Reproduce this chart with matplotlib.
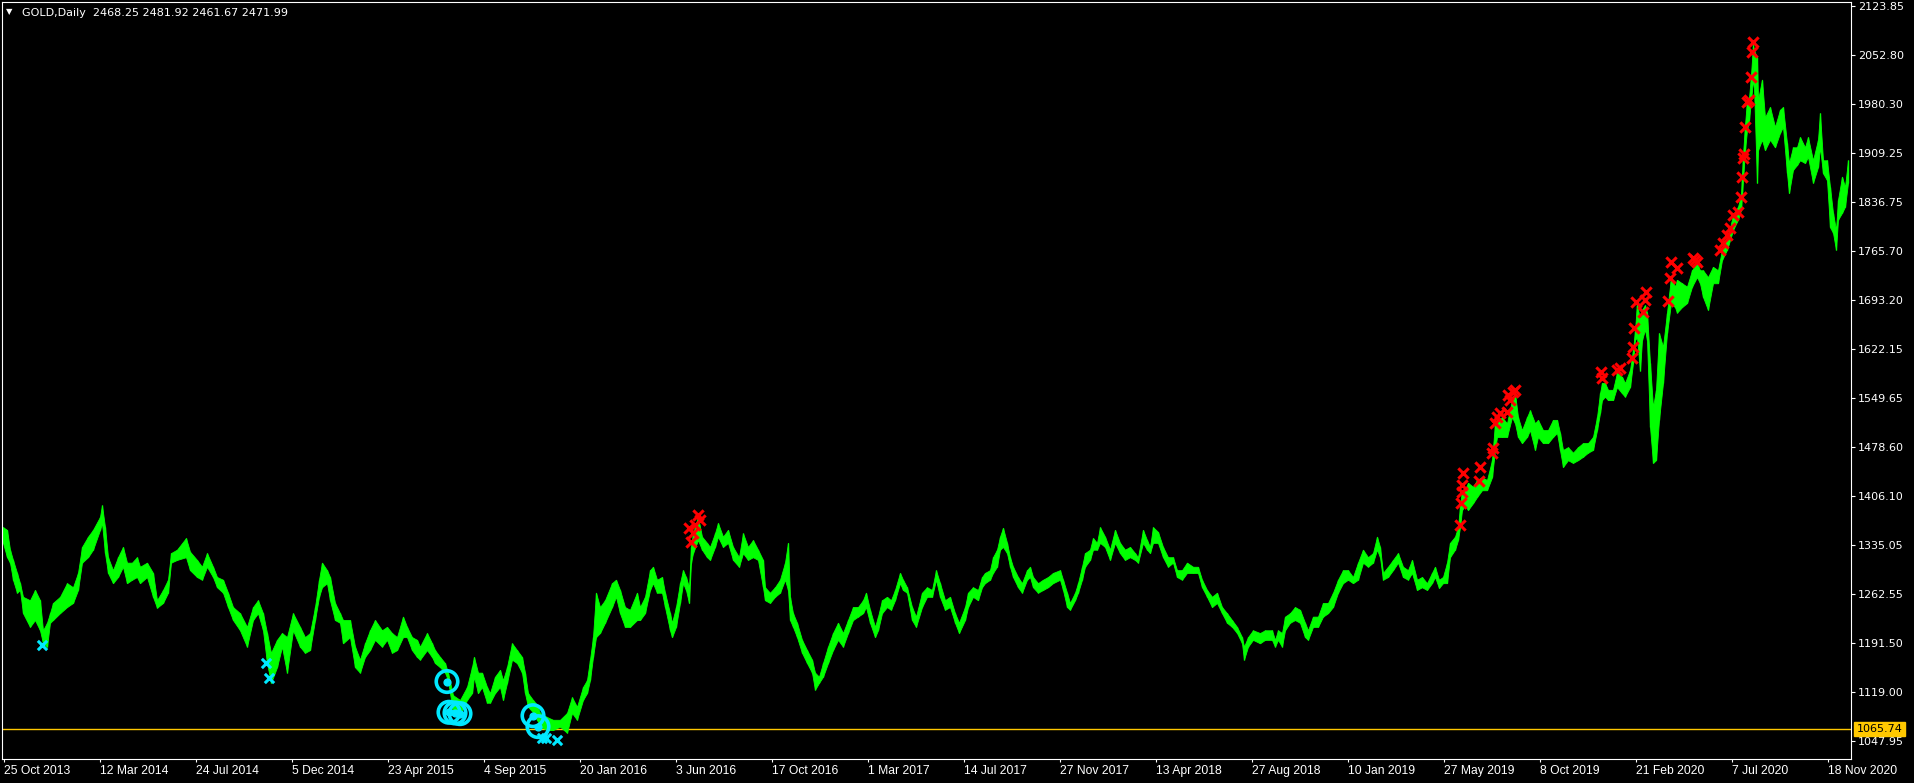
import matplotlib
matplotlib.use("Agg")
from matplotlib import pyplot as plt
from matplotlib import transforms

# daily GOLD, sampled from the chart: bar number, high, low
bars = [3, 7, 10, 13, 17, 20, 23, 30, 35, 40, 43, 47, 50, 53, 60, 67, 73, 78, 82, 88,
        93, 100, 102, 105, 108, 113, 118, 123, 127, 132, 137, 140, 147, 153, 157, 163, 168, 171, 177, 186,
        190, 197, 202, 207, 213, 217, 223, 228, 233, 240, 247, 253, 258, 263, 267, 271, 277, 282, 287, 293,
        300, 305, 310, 315, 319, 322, 327, 330, 335, 340, 343, 350, 355, 360, 365, 370, 375, 382, 387, 392,
        397, 403, 407, 412, 417, 420, 427, 432, 435, 440, 445, 448, 453, 460, 467, 472, 474, 478, 482, 487,
        490, 495, 500, 503, 507, 512, 517, 522, 525, 528, 533, 537, 540, 547, 553, 560, 567, 572, 577, 583,
        587, 590, 593, 596, 600, 605, 612, 616, 620, 625, 630, 637, 640, 645, 650, 653, 657, 662, 665, 670,
        672, 676, 680, 683, 686, 689, 691, 693, 698, 702, 707, 710, 715, 718, 723, 728, 733, 739, 743, 748,
        753, 758, 763, 765, 770, 775, 780, 785, 788, 790, 793, 797, 802, 807, 812, 815, 819, 823, 828, 833,
        838, 843, 848, 853, 858, 863, 866, 870, 875, 878, 882, 887, 891, 895, 900, 903, 907, 912, 916, 922,
        927, 932, 936, 940, 945, 950, 955, 959, 965, 968, 973, 978, 982, 985, 990, 993, 997, 1000, 1003, 1007,
        1010, 1013, 1018, 1022, 1027, 1030, 1033, 1038, 1043, 1048, 1053, 1060, 1063, 1067, 1070, 1075, 1078, 1082, 1085, 1090,
        1093, 1097, 1100, 1105, 1110, 1115, 1120, 1125, 1130, 1135, 1138, 1143, 1147, 1150, 1153, 1158, 1163, 1168, 1173, 1177,
        1182, 1187, 1193, 1198, 1202, 1207, 1212, 1217, 1222, 1227, 1232, 1237, 1242, 1244, 1248, 1253, 1260, 1265, 1272, 1275,
        1278, 1282, 1285, 1290, 1295, 1300, 1305, 1308, 1313, 1318, 1323, 1328, 1333, 1338, 1343, 1348, 1353, 1358, 1363, 1368,
        1373, 1377, 1380, 1383, 1388, 1393, 1398, 1403, 1408, 1412, 1417, 1422, 1427, 1432, 1435, 1439, 1443, 1447, 1450, 1455,
        1458, 1460, 1462, 1465, 1468, 1473, 1477, 1482, 1487, 1492, 1495, 1497, 1502, 1507, 1512, 1515, 1518, 1522, 1527, 1530,
        1535, 1538, 1543, 1548, 1553, 1557, 1560, 1563, 1568, 1573, 1578, 1583, 1588, 1593, 1597, 1600, 1602, 1605, 1608, 1613,
        1617, 1622, 1625, 1630, 1633, 1635, 1637, 1640, 1642, 1645, 1647, 1650, 1653, 1656, 1659, 1663, 1667, 1671, 1675, 1677,
        1682, 1687, 1692, 1697, 1700, 1703, 1708, 1713, 1718, 1722, 1727, 1730, 1733, 1738, 1741, 1742, 1743, 1745, 1747, 1749,
        1751, 1753, 1754, 1757, 1758, 1762, 1765, 1770, 1775, 1780, 1783, 1787, 1789, 1793, 1797, 1800, 1805, 1808, 1813, 1818,
        1820, 1823, 1827, 1830, 1833, 1836, 1838, 1842, 1845, 1848]
highs = [1361, 1357, 1328, 1313, 1294, 1279, 1259, 1254, 1269, 1254, 1210, 1221, 1235, 1250, 1259, 1279, 1273, 1294, 1332, 1347,
         1357, 1376, 1393, 1361, 1317, 1298, 1317, 1332, 1309, 1309, 1317, 1303, 1309, 1294, 1254, 1269, 1284, 1323, 1328, 1345,
         1325, 1313, 1303, 1323, 1303, 1288, 1284, 1265, 1244, 1235, 1215, 1244, 1254, 1235, 1206, 1177, 1196, 1206, 1200, 1235,
         1215, 1200, 1206, 1244, 1284, 1309, 1298, 1288, 1250, 1235, 1225, 1225, 1186, 1167, 1191, 1210, 1225, 1210, 1215, 1206,
         1200, 1230, 1215, 1200, 1196, 1186, 1206, 1191, 1181, 1171, 1162, 1148, 1115, 1108, 1127, 1156, 1171, 1148, 1148, 1127,
         1118, 1142, 1152, 1137, 1156, 1191, 1181, 1171, 1148, 1118, 1108, 1101, 1089, 1083, 1079, 1079, 1089, 1112, 1098, 1127,
         1137, 1167, 1200, 1265, 1244, 1254, 1279, 1284, 1269, 1244, 1240, 1265, 1244, 1259, 1298, 1303, 1284, 1288, 1265, 1235,
         1221, 1244, 1279, 1298, 1288, 1273, 1332, 1352, 1376, 1347, 1338, 1332, 1352, 1367, 1347, 1357, 1332, 1317, 1352, 1332,
         1342, 1328, 1313, 1273, 1265, 1273, 1284, 1309, 1338, 1259, 1235, 1221, 1196, 1181, 1167, 1148, 1142, 1162, 1186, 1206,
         1221, 1206, 1225, 1244, 1244, 1254, 1265, 1240, 1215, 1230, 1254, 1259, 1254, 1269, 1294, 1284, 1273, 1244, 1230, 1265,
         1273, 1269, 1298, 1279, 1254, 1259, 1235, 1221, 1244, 1265, 1273, 1269, 1288, 1294, 1298, 1317, 1328, 1347, 1360, 1338,
         1317, 1303, 1288, 1279, 1298, 1303, 1288, 1279, 1284, 1288, 1294, 1298, 1284, 1265, 1250, 1265, 1279, 1303, 1323, 1328,
         1345, 1338, 1361, 1347, 1328, 1357, 1338, 1328, 1332, 1323, 1317, 1357, 1342, 1332, 1361, 1354, 1332, 1317, 1317, 1298,
         1298, 1309, 1303, 1303, 1284, 1269, 1259, 1265, 1244, 1235, 1225, 1215, 1200, 1186, 1200, 1210, 1206, 1210, 1210, 1196,
         1210, 1206, 1230, 1235, 1244, 1240, 1221, 1210, 1230, 1230, 1250, 1250, 1265, 1284, 1298, 1298, 1288, 1309, 1328, 1317,
         1323, 1347, 1332, 1294, 1303, 1313, 1323, 1303, 1298, 1313, 1284, 1288, 1279, 1294, 1303, 1284, 1288, 1309, 1338, 1347,
         1361, 1391, 1415, 1415, 1426, 1420, 1430, 1434, 1430, 1459, 1513, 1513, 1522, 1513, 1547, 1557, 1522, 1503, 1522, 1532,
         1513, 1518, 1503, 1503, 1518, 1518, 1499, 1474, 1478, 1470, 1478, 1484, 1484, 1493, 1522, 1557, 1572, 1572, 1562, 1562,
         1587, 1581, 1572, 1591, 1620, 1649, 1689, 1664, 1679, 1686, 1675, 1601, 1537, 1562, 1645, 1625, 1675, 1727, 1713, 1723,
         1718, 1713, 1737, 1748, 1737, 1737, 1727, 1742, 1737, 1767, 1786, 1799, 1818, 1830, 1847, 1877, 1906, 1950, 1986, 1989,
         2023, 2067, 2059, 2049, 1986, 2016, 1961, 1976, 1947, 1972, 1976, 1923, 1894, 1917, 1917, 1932, 1917, 1932, 1898, 1928,
         1967, 1898, 1898, 1859, 1821, 1796, 1840, 1874, 1859, 1898]
lows = [1338, 1317, 1309, 1284, 1265, 1269, 1235, 1215, 1225, 1210, 1191, 1186, 1221, 1225, 1235, 1244, 1250, 1269, 1309, 1317,
        1328, 1357, 1367, 1323, 1294, 1279, 1288, 1303, 1279, 1284, 1288, 1279, 1288, 1259, 1243, 1250, 1265, 1309, 1313, 1317,
        1298, 1288, 1284, 1303, 1288, 1273, 1265, 1244, 1225, 1210, 1186, 1225, 1235, 1210, 1162, 1133, 1156, 1186, 1148, 1210,
        1186, 1177, 1181, 1225, 1259, 1273, 1279, 1254, 1225, 1221, 1191, 1200, 1156, 1148, 1171, 1181, 1196, 1186, 1196, 1177,
        1181, 1200, 1200, 1181, 1171, 1167, 1181, 1171, 1162, 1156, 1148, 1137, 1090, 1086, 1108, 1118, 1142, 1118, 1127, 1104,
        1104, 1118, 1127, 1108, 1133, 1167, 1162, 1148, 1118, 1098, 1090, 1079, 1069, 1064, 1064, 1069, 1060, 1089, 1079, 1108,
        1118, 1137, 1171, 1200, 1206, 1221, 1244, 1259, 1235, 1215, 1215, 1225, 1225, 1235, 1269, 1279, 1265, 1265, 1244, 1210,
        1200, 1215, 1250, 1279, 1269, 1250, 1309, 1323, 1342, 1328, 1317, 1313, 1332, 1347, 1332, 1338, 1313, 1303, 1323, 1313,
        1317, 1313, 1273, 1254, 1250, 1259, 1265, 1284, 1269, 1225, 1215, 1200, 1177, 1162, 1148, 1123, 1133, 1142, 1162, 1181,
        1196, 1186, 1206, 1225, 1230, 1235, 1244, 1221, 1200, 1210, 1235, 1244, 1240, 1254, 1279, 1269, 1265, 1225, 1215, 1244,
        1259, 1259, 1284, 1259, 1240, 1244, 1221, 1206, 1225, 1244, 1259, 1254, 1273, 1279, 1284, 1294, 1303, 1328, 1332, 1323,
        1303, 1288, 1273, 1265, 1284, 1288, 1273, 1265, 1269, 1273, 1279, 1284, 1269, 1244, 1240, 1254, 1265, 1284, 1303, 1313,
        1328, 1328, 1338, 1332, 1313, 1338, 1323, 1313, 1317, 1313, 1309, 1338, 1328, 1323, 1338, 1338, 1317, 1303, 1309, 1288,
        1284, 1294, 1294, 1294, 1273, 1259, 1244, 1250, 1235, 1221, 1215, 1206, 1191, 1167, 1186, 1196, 1191, 1196, 1196, 1186,
        1196, 1186, 1210, 1221, 1225, 1221, 1200, 1196, 1215, 1215, 1230, 1235, 1244, 1265, 1279, 1284, 1279, 1284, 1309, 1303,
        1309, 1328, 1317, 1284, 1288, 1298, 1309, 1288, 1284, 1294, 1269, 1273, 1269, 1279, 1288, 1272, 1279, 1279, 1317, 1328,
        1342, 1361, 1386, 1393, 1386, 1396, 1405, 1415, 1415, 1434, 1474, 1493, 1493, 1493, 1522, 1513, 1493, 1484, 1493, 1503,
        1474, 1493, 1484, 1484, 1493, 1499, 1474, 1449, 1459, 1455, 1459, 1464, 1470, 1474, 1503, 1528, 1547, 1552, 1547, 1547,
        1566, 1557, 1552, 1566, 1601, 1635, 1639, 1590, 1635, 1650, 1635, 1508, 1455, 1459, 1518, 1572, 1645, 1689, 1683, 1675,
        1683, 1689, 1713, 1727, 1718, 1698, 1679, 1718, 1718, 1752, 1767, 1781, 1796, 1811, 1825, 1847, 1869, 1913, 1942, 1957,
        1986, 2015, 2005, 1865, 1913, 1928, 1913, 1928, 1917, 1938, 1947, 1879, 1850, 1884, 1891, 1898, 1894, 1903, 1865, 1888,
        1917, 1879, 1869, 1800, 1792, 1767, 1811, 1821, 1830, 1865]

# sell signals (red crosses): bar, price
sell_bars = [689, 691, 693, 695, 698, 700,
             1460, 1461, 1462, 1462, 1463, 1479, 1480, 1492, 1493, 1495, 1497, 1500, 1507, 1508, 1510, 1513, 1515,
             1601, 1602, 1617, 1620, 1632, 1633, 1634, 1636, 1643, 1645, 1646,
             1668, 1670, 1671, 1677, 1693, 1695, 1697,
             1720, 1723, 1727, 1730, 1733, 1738, 1741, 1742, 1743, 1744, 1745, 1747, 1749, 1751, 1752, 1753]
sell_prices = [1360, 1339, 1352, 1364, 1379, 1371,
               1364, 1396, 1412, 1423, 1440, 1429, 1449, 1470, 1477, 1513, 1522, 1528, 1530, 1554, 1547, 1559, 1562,
               1588, 1579, 1591, 1594, 1609, 1625, 1653, 1691, 1676, 1694, 1705,
               1692, 1726, 1749, 1740, 1755, 1752, 1749,
               1767, 1777, 1789, 1799, 1818, 1822, 1844, 1873, 1901, 1907, 1947, 1983, 1986, 2020, 2057, 2071]

# buy signals (cyan crosses) and cyan circle marks
buy_bars = [42, 266, 269, 542, 546, 557]
buy_prices = [1188, 1162, 1140, 1052, 1053, 1050]
circle_bars = [447, 449, 455, 460, 533, 538]
circle_prices = [1135, 1090, 1089, 1088, 1085, 1069]

level_price = 1065.74

date_bars = [4, 100, 196, 292, 388, 484, 580, 676, 772, 868,
             964, 1060, 1156, 1252, 1348, 1444, 1540, 1636, 1732, 1828]
date_labels = ["25 Oct 2013", "12 Mar 2014", "24 Jul 2014", "5 Dec 2014", "23 Apr 2015",
               "4 Sep 2015", "20 Jan 2016", "3 Jun 2016", "17 Oct 2016", "1 Mar 2017",
               "14 Jul 2017", "27 Nov 2017", "13 Apr 2018", "27 Aug 2018", "10 Jan 2019",
               "27 May 2019", "8 Oct 2019", "21 Feb 2020", "7 Jul 2020", "18 Nov 2020"]
price_ticks = [2123.85, 2052.80, 1980.30, 1909.25, 1836.75, 1765.70, 1693.20, 1622.15,
               1549.65, 1478.60, 1406.10, 1335.05, 1262.55, 1191.50, 1119.00, 1047.95]

W, H = 1914, 783
fig = plt.figure(figsize=(W / 100, H / 100), dpi=100, facecolor="black")
ax = fig.add_axes([2 / W, 24 / H, 1849 / W, 757 / H], facecolor="black")

green = "#00FF00"
ax.fill_between(bars, lows, highs, color=green, lw=0.6, edgecolor=green, zorder=2)
ax.vlines(bars, lows, highs, color=green, lw=1.0, zorder=2)

ax.axhline(level_price, color="#FFC800", lw=1, zorder=1)

ax.scatter(buy_bars, buy_prices, marker="x", s=45, color="#00E8FF", linewidths=2.2, zorder=4)
ax.scatter(sell_bars, sell_prices, marker="x", s=55, color="#FF0000", linewidths=2.2, zorder=4)
ax.scatter(circle_bars, circle_prices, marker="o", s=240, facecolors="none",
           edgecolors="#00E8FF", linewidths=2.6, zorder=5)
ax.scatter(circle_bars, circle_prices, marker="o", s=24, color="#00E8FF", zorder=5)

ax.set_xlim(2, 1851)
ax.set_ylim(1021.6, 2129.7)

for s in ax.spines.values():
    s.set_color("white")
    s.set_linewidth(0.8)

ax.yaxis.tick_right()
ax.set_yticks(price_ticks)
ax.set_yticklabels(["%.2f" % p for p in price_ticks])
ax.tick_params(axis="y", colors="white", length=3, width=0.8, pad=2, labelsize=8)

ax.set_xticks(date_bars)
ax.set_xticklabels(date_labels)
ax.tick_params(axis="x", colors="white", length=2.5, width=0.8, pad=2, labelsize=8)
for lab in ax.get_xticklabels():
    lab.set_horizontalalignment("left")
    lab.set_fontfamily("Liberation Sans")
    lab.set_fontsize(8.7)

trans = transforms.blended_transform_factory(ax.transAxes, ax.transData)
ax.annotate("%.2f" % level_price, xy=(1, level_price), xycoords=trans,
            xytext=(4, 0), textcoords="offset points", va="center", ha="left",
            fontsize=8, color="black", zorder=10, annotation_clip=False,
            bbox=dict(boxstyle="square,pad=0.2", facecolor="#FFC800", edgecolor="#FFC800"))

fig.text(6 / W, 1 - 12 / H, "\u25bc", color="white", fontsize=6, va="center", ha="left")
fig.text(22 / W, 1 - 12.5 / H, "GOLD,Daily  2468.25 2481.92 2461.67 2471.99",
         color="white", fontsize=8, va="center", ha="left")

plt.savefig("out.png", dpi=100, facecolor="black")
